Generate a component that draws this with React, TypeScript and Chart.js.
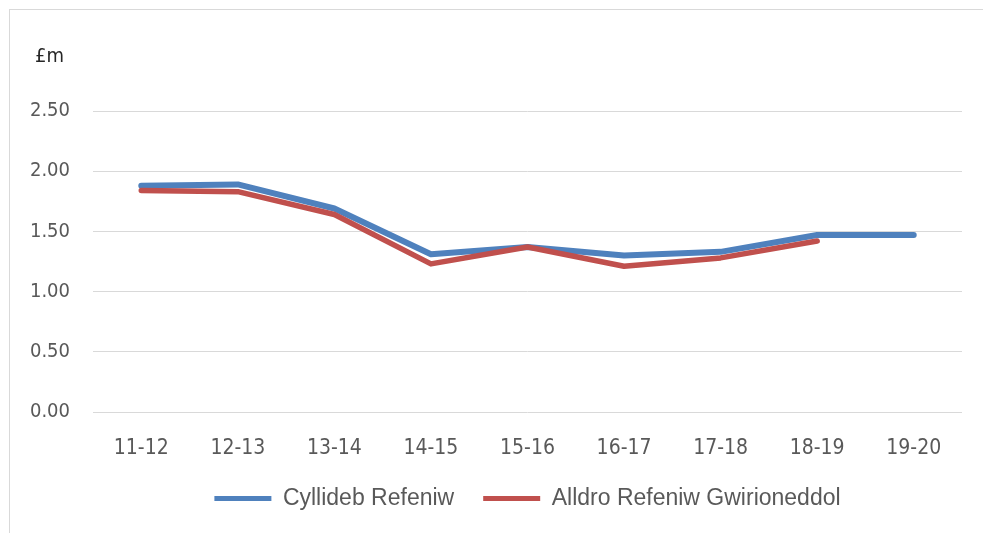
import React, { useEffect, useRef } from "react";
import { Chart, registerables } from "chart.js";

Chart.register(...registerables);

const categories = ["11-12", "12-13", "13-14", "14-15", "15-16", "16-17", "17-18", "18-19", "19-20"];
const budget = [1.88, 1.89, 1.69, 1.31, 1.37, 1.30, 1.33, 1.47, 1.47];
const outturn = [1.84, 1.83, 1.64, 1.23, 1.37, 1.21, 1.28, 1.42, null];
const seriesNames = ["Cyllideb Refeniw", "Alldro Refeniw Gwirioneddol"];
const yUnit = "£m";

const tickFont = "'DejaVu Sans Condensed', 'Liberation Sans', sans-serif";
const legendFontFamily = "'Liberation Sans', Arial, sans-serif";

export default function App() {
  const ref = useRef<HTMLCanvasElement | null>(null);
  useEffect(() => {
    if (!ref.current) return;
    const unitPlugin = {
      id: "unitLabel",
      afterDraw(chart: any) {
        const ctx = chart.ctx;
        ctx.save();
        ctx.font = `20px ${tickFont}`;
        ctx.fillStyle = "#262626";
        ctx.textAlign = "left";
        ctx.textBaseline = "middle";
        ctx.fillText(yUnit, 25, 47);
        ctx.restore();
      },
    };
    const chart = new Chart(ref.current, {
      type: "line",
      data: {
        labels: categories,
        datasets: [
          {
            label: seriesNames[0],
            data: budget,
            borderColor: "#4F81BD",
            backgroundColor: "#4F81BD",
            borderWidth: 6,
            pointRadius: 0,
            tension: 0,
            borderCapStyle: "round",
            borderJoinStyle: "round",
            order: 1,
          },
          {
            label: seriesNames[1],
            data: outturn,
            borderColor: "#C0504D",
            backgroundColor: "#C0504D",
            borderWidth: 5.5,
            pointRadius: 0,
            tension: 0,
            borderCapStyle: "round",
            borderJoinStyle: "round",
            order: 0,
          },
        ],
      },
      options: {
        responsive: false,
        animation: false,
        layout: { padding: { left: 0, right: 21, top: 101, bottom: 13 } },
        scales: {
          x: {
            offset: true,
            grid: { display: false, drawTicks: false },
            border: { display: false },
            ticks: { padding: 24, color: "#595959", font: { family: tickFont, size: 21 } },
            afterFit(scale: any) {
              scale.height = 46;
            },
          },
          y: {
            min: 0,
            max: 2.5,
            grid: { color: "#d9d9d9", lineWidth: 1, drawTicks: false },
            border: { display: false },
            ticks: {
              stepSize: 0.5,
              padding: 23,
              color: "#595959",
              font: { family: tickFont, size: 20 },
              callback: (v: any) => Number(v).toFixed(2),
            },
            afterFit(scale: any) {
              scale.width = 83;
            },
          },
        },
        plugins: {
          legend: {
            position: "bottom",
            fullSize: false,
            labels: {
              boxWidth: 57,
              boxHeight: 5,
              padding: 29,
              color: "#595959",
              font: { family: legendFontFamily, size: 23 },
              sort: (a: any, b: any) => a.datasetIndex - b.datasetIndex,
              generateLabels: (c: any) =>
                (Chart.defaults.plugins.legend.labels.generateLabels as any)(c).map((l: any) => ({
                  ...l,
                  lineWidth: 0,
                })),
            },
          },
          tooltip: { enabled: false },
        },
      } as any,
      plugins: [unitPlugin],
    });
    return () => chart.destroy();
  }, []);
  return (
    <div
      style={{
        position: "absolute",
        left: 9,
        top: 9,
        width: 973,
        height: 523,
        borderTop: "1px solid #d9d9d9",
        borderLeft: "1px solid #d9d9d9",
        background: "#fff",
      }}
    >
      <canvas ref={ref} width={973} height={523} style={{ display: "block" }} />
    </div>
  );
}
